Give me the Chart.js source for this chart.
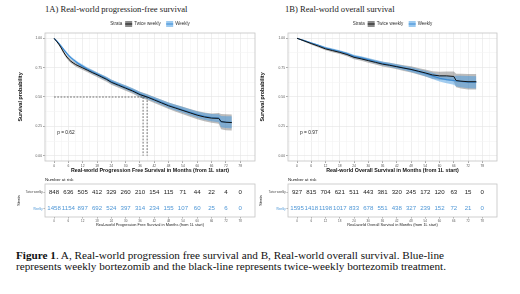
<!DOCTYPE html>
<html>
<head>
<meta charset="utf-8">
<script src="https://cdn.jsdelivr.net/npm/chart.js@4"></script>
<style>
  html, body { margin: 0; padding: 0; background: #fff; }
  body { width: 520px; height: 294px; position: relative; overflow: hidden; font-family: "Liberation Sans", Arial, sans-serif; }
  canvas { position: absolute; }
  .panel-title { position: absolute; font-family: "Liberation Serif", serif; color: #222; white-space: nowrap; font-size: 8.6px; }
  .caption { position: absolute; left: 16px; top: 250px; font-family: "Liberation Serif", serif; font-size: 11.2px; line-height: 11.3px; color: #111; white-space: nowrap; }
</style>
</head>
<body>

<div class="panel-title" style="left:45px; top:4px;">1A) Real-world progression-free survival</div>
<canvas id="pfsChart" width="262" height="159" style="left:0; top:15px;"></canvas>
<canvas id="pfsRisk" width="262" height="51" style="left:0; top:176px;"></canvas>

<div class="panel-title" style="left:285px; top:4px;">1B) Real-world overall survival</div>
<canvas id="osChart" width="262" height="159" style="left:242px; top:15px;"></canvas>
<canvas id="osRisk" width="262" height="51" style="left:242px; top:176px;"></canvas>

<div class="caption"><b>Figure 1</b>. A, Real-world progression free survival and B, Real-world overall survival. Blue-line<br>represents weekly bortezomib and the black-line represents twice-weekly bortezomib treatment.</div>

<script>
// 坐标刻度
const xTicks = [0, 6, 12, 18, 24, 30, 36, 42, 48, 54, 60, 66, 72, 78];
const yTicks = [0, 0.25, 0.5, 0.75, 1];

// 无进展生存 (PFS)
const pfsTime = [0, 1, 2, 3, 4, 5, 6, 7, 8, 9, 10, 12, 14, 16, 18, 20, 22, 24, 27, 30, 33, 36, 39, 42, 45, 48, 51, 54, 57, 60, 63, 66, 69, 70, 72, 74.5];
const pfsTwice = [1.00, 0.975, 0.95, 0.918, 0.882, 0.85, 0.825, 0.805, 0.79, 0.777, 0.767, 0.748, 0.728, 0.708, 0.69, 0.67, 0.65, 0.625, 0.60, 0.575, 0.55, 0.52, 0.50, 0.475, 0.45, 0.425, 0.405, 0.385, 0.365, 0.345, 0.33, 0.32, 0.318, 0.29, 0.285, 0.282];
const pfsTwiceCI = [0, 0.007, 0.009, 0.011, 0.013, 0.014, 0.015, 0.016, 0.016, 0.017, 0.017, 0.018, 0.018, 0.019, 0.019, 0.02, 0.02, 0.021, 0.022, 0.022, 0.023, 0.024, 0.025, 0.026, 0.027, 0.028, 0.03, 0.031, 0.033, 0.035, 0.037, 0.04, 0.045, 0.065, 0.068, 0.068];
const pfsWeekly = [1.00, 0.98, 0.957, 0.932, 0.905, 0.88, 0.855, 0.835, 0.818, 0.803, 0.788, 0.762, 0.737, 0.716, 0.696, 0.676, 0.656, 0.632, 0.606, 0.581, 0.556, 0.526, 0.502, 0.48, 0.455, 0.43, 0.41, 0.39, 0.37, 0.35, 0.335, 0.325, 0.32, 0.29, 0.287, 0.285];
const pfsWeeklyCI = [0, 0.006, 0.007, 0.008, 0.009, 0.01, 0.011, 0.012, 0.012, 0.013, 0.013, 0.014, 0.014, 0.015, 0.015, 0.016, 0.016, 0.017, 0.017, 0.018, 0.018, 0.019, 0.02, 0.021, 0.022, 0.023, 0.024, 0.025, 0.026, 0.027, 0.029, 0.031, 0.034, 0.048, 0.05, 0.052];
const pfsMedians = [37.3, 39.0];

// 总生存 (OS)
const osTime = [0, 3, 6, 9, 12, 15, 18, 21, 24, 27, 30, 33, 36, 39, 42, 45, 48, 51, 54, 57, 60, 63, 66, 67, 69, 72, 75.5];
const osTwice = [1.00, 0.978, 0.955, 0.933, 0.91, 0.895, 0.88, 0.862, 0.838, 0.825, 0.81, 0.795, 0.78, 0.77, 0.758, 0.746, 0.735, 0.72, 0.705, 0.688, 0.68, 0.68, 0.675, 0.64, 0.635, 0.63, 0.63];
const osTwiceCI = [0, 0.007, 0.009, 0.011, 0.012, 0.013, 0.014, 0.015, 0.016, 0.017, 0.018, 0.019, 0.02, 0.021, 0.022, 0.024, 0.026, 0.028, 0.03, 0.032, 0.034, 0.037, 0.042, 0.058, 0.062, 0.066, 0.066];
const osWeekly = [1.00, 0.98, 0.96, 0.94, 0.918, 0.902, 0.887, 0.87, 0.846, 0.833, 0.818, 0.803, 0.787, 0.774, 0.761, 0.748, 0.733, 0.717, 0.70, 0.68, 0.66, 0.648, 0.64, 0.636, 0.632, 0.626, 0.625];
const osWeeklyCI = [0, 0.006, 0.007, 0.008, 0.009, 0.01, 0.011, 0.012, 0.013, 0.013, 0.014, 0.015, 0.016, 0.017, 0.018, 0.019, 0.02, 0.022, 0.024, 0.026, 0.028, 0.031, 0.036, 0.046, 0.049, 0.052, 0.052];

// 风险人数
const riskTime = [0, 6, 12, 18, 24, 30, 36, 42, 48, 54, 60, 66, 72, 78];
const strata = ['Twice weekly', 'Weekly'];
const pfsRiskTwice = [848, 636, 505, 412, 329, 260, 210, 154, 115, 71, 44, 22, 4, 0];
const pfsRiskWeekly = [1458, 1154, 897, 692, 524, 397, 314, 234, 155, 107, 60, 25, 6, 0];
const osRiskTwice = [927, 815, 704, 621, 511, 443, 381, 320, 245, 172, 120, 63, 15, 0];
const osRiskWeekly = [1595, 1418, 1198, 1017, 833, 678, 551, 438, 327, 239, 152, 72, 21, 0];

const BLACK = '#111111';
const BLUE = '#3a8ad4';
const BLUE_TEXT = '#4f97d6';
const GRAY_BAND = 'rgba(95,95,95,0.42)';
const BLUE_BAND = 'rgba(70,155,228,0.5)';
const X_MIN = -3.8, X_MAX = 84.2;

// 主/次网格
const xGrid = [-3].concat(...xTicks.map(v => [v, v + 3]));
const yGrid = [0, 0.125, 0.25, 0.375, 0.5, 0.625, 0.75, 0.875, 1];
const isMajorX = v => xTicks.includes(v);
const isMajorY = v => yTicks.some(t => Math.abs(t - v) < 1e-6);

// 面板边框
const framePlugin = {
    id: 'frame',
    afterDraw(chart) {
        const { ctx, chartArea: a } = chart;
        ctx.save();
        ctx.strokeStyle = '#c4c4c4';
        ctx.lineWidth = 0.8;
        ctx.strokeRect(a.left, a.top, a.width, a.height);
        ctx.restore();
    }
};

// 图例 (Strata)
const strataLegendPlugin = {
    id: 'strataLegend',
    afterDraw(chart) {
        const { ctx, chartArea: a } = chart;
        const keys = [
            { fill: '#8c8c8c', line: BLACK },
            { fill: '#9ccaf0', line: BLUE }
        ];
        ctx.save();
        ctx.font = '4.5px "Liberation Sans", Arial, sans-serif';
        ctx.textBaseline = 'middle';
        const keyW = 7, keyH = 6, gapA = 3, gapB = 2, gapC = 2.5;
        let total = ctx.measureText('Strata').width;
        strata.forEach(s => { total += gapA + keyW + gapB + ctx.measureText(s).width; });
        total += gapC;
        let x = (a.left + a.right) / 2 - total / 2;
        const y = a.top - 9;
        ctx.fillStyle = '#333';
        ctx.fillText('Strata', x, y);
        x += ctx.measureText('Strata').width;
        strata.forEach((s, i) => {
            x += gapA;
            ctx.fillStyle = keys[i].fill;
            ctx.fillRect(x, y - keyH / 2, keyW, keyH);
            ctx.fillStyle = keys[i].line;
            ctx.fillRect(x, y - 0.5, keyW, 1);
            x += keyW + gapB;
            ctx.fillStyle = '#333';
            ctx.fillText(s, x, y);
            x += ctx.measureText(s).width + (i === 0 ? gapC : 0);
        });
        ctx.restore();
    }
};

// p 值标注
const pLabelPlugin = {
    id: 'pLabel',
    afterDatasetsDraw(chart, args, opts) {
        if (!opts.text) return;
        const { ctx, scales } = chart;
        ctx.save();
        ctx.font = '4.8px "Liberation Sans", Arial, sans-serif';
        ctx.fillStyle = '#222';
        ctx.textBaseline = 'middle';
        ctx.fillText(opts.text, scales.x.getPixelForValue(opts.x), scales.y.getPixelForValue(opts.y));
        ctx.restore();
    }
};

// 风险表数字
const riskTextPlugin = {
    id: 'riskText',
    afterDraw(chart) {
        const { ctx, chartArea: a } = chart;
        ctx.save();
        ctx.font = '6.1px "Liberation Sans", Arial, sans-serif';
        ctx.textAlign = 'center';
        ctx.textBaseline = 'middle';
        chart.data.datasets.forEach((ds, di) => {
            const meta = chart.getDatasetMeta(di);
            ctx.fillStyle = ds.textColor;
            meta.data.forEach((pt, i) => ctx.fillText(String(ds.data[i].n), pt.x, pt.y));
        });
        ctx.font = '4.4px "Liberation Sans", Arial, sans-serif';
        ctx.fillStyle = '#222';
        ctx.textAlign = 'left';
        ctx.textBaseline = 'bottom';
        ctx.fillText('Number at risk', a.left, a.top - 2);
        ctx.restore();
    }
};

function pairs(xs, ys) {
    return xs.map((x, i) => ({ x: x, y: ys[i] }));
}

function bandLine(xs, ys, ci, sign) {
    return xs.map((x, i) => ({ x: x, y: ys[i] + sign * ci[i] }));
}

// 生存曲线
function makeKM(id, cfg) {
    const datasets = [
        { data: bandLine(cfg.time, cfg.twice, cfg.twiceCI, -1), borderWidth: 0, pointRadius: 0, fill: false, order: 5 },
        { data: bandLine(cfg.time, cfg.twice, cfg.twiceCI, 1), borderWidth: 0, pointRadius: 0, fill: '-1', backgroundColor: GRAY_BAND, order: 5 },
        { data: bandLine(cfg.time, cfg.weekly, cfg.weeklyCI, -1), borderWidth: 0, pointRadius: 0, fill: false, order: 4 },
        { data: bandLine(cfg.time, cfg.weekly, cfg.weeklyCI, 1), borderWidth: 0, pointRadius: 0, fill: '-1', backgroundColor: BLUE_BAND, order: 4 },
        { data: pairs(cfg.time, cfg.weekly), borderColor: BLUE, borderWidth: 1.1, pointRadius: 0, fill: false, order: 1 },
        { data: pairs(cfg.time, cfg.twice), borderColor: BLACK, borderWidth: 1.0, pointRadius: 0, fill: false, order: 0 }
    ];
    if (cfg.medians) {
        const m = Math.max(...cfg.medians);
        const dash = { borderColor: '#333', borderWidth: 0.7, borderDash: [1.8, 1.4], pointRadius: 0, fill: false, order: 2 };
        datasets.push(Object.assign({ data: [{ x: 0, y: 0.5 }, { x: m, y: 0.5 }] }, dash));
        cfg.medians.forEach(v => datasets.push(Object.assign({ data: [{ x: v, y: 0.5 }, { x: v, y: 0 }] }, dash)));
    }

    return new Chart(document.getElementById(id), {
        type: 'line',
        data: { datasets: datasets },
        plugins: [framePlugin, pLabelPlugin, strataLegendPlugin],
        options: {
            responsive: false,
            animation: false,
            devicePixelRatio: 1,
            events: [],
            layout: { padding: { left: 17, right: 7, top: 18, bottom: 0 } },
            elements: { line: { tension: 0 } },
            plugins: {
                legend: { display: false },
                tooltip: { enabled: false },
                pLabel: { text: cfg.pText, x: 1.3, y: 0.2 }
            },
            scales: {
                x: {
                    type: 'linear',
                    min: X_MIN,
                    max: X_MAX,
                    afterBuildTicks: s => { s.ticks = xGrid.map(v => ({ value: v })); },
                    afterFit: s => { s.height = 13; },
                    grid: {
                        color: c => isMajorX(c.tick.value) ? '#e4e4e4' : '#f3f3f3',
                        lineWidth: 0.6,
                        tickLength: 2,
                        tickColor: c => isMajorX(c.tick.value) && c.tick.value >= 0 ? '#555' : 'rgba(0,0,0,0)',
                        tickWidth: 0.5
                    },
                    border: { display: false },
                    ticks: {
                        autoSkip: false,
                        maxRotation: 0,
                        padding: 1,
                        color: '#555',
                        font: { size: 3.3, family: '"Liberation Sans", Arial' },
                        callback: v => (isMajorX(v) && v >= 0) ? String(v) : ''
                    },
                    title: {
                        display: true,
                        text: cfg.xTitle,
                        color: '#111',
                        padding: 0,
                        font: { size: 5.3, weight: 'bold', family: '"Liberation Sans", Arial' }
                    }
                },
                y: {
                    min: -0.045,
                    max: 1.045,
                    afterBuildTicks: s => { s.ticks = yGrid.map(v => ({ value: v })); },
                    afterFit: s => { s.width = cfg.yWidth; },
                    grid: {
                        color: c => isMajorY(c.tick.value) ? '#e4e4e4' : '#f3f3f3',
                        lineWidth: 0.6,
                        tickLength: 2,
                        tickColor: c => isMajorY(c.tick.value) ? '#555' : 'rgba(0,0,0,0)',
                        tickWidth: 0.5
                    },
                    border: { display: false },
                    ticks: {
                        autoSkip: false,
                        padding: 1,
                        color: '#555',
                        font: { size: 3.3, family: '"Liberation Sans", Arial' },
                        callback: v => isMajorY(v) ? v.toFixed(2) : ''
                    },
                    title: {
                        display: true,
                        text: 'Survival probability',
                        color: '#111',
                        padding: 0,
                        font: { size: 5.3, weight: 'bold', family: '"Liberation Sans", Arial' }
                    }
                }
            }
        }
    });
}

// 风险表
function makeRisk(id, cfg) {
    const rows = [
        { data: riskTime.map((t, i) => ({ x: t, y: strata[0], n: cfg.twice[i] })), textColor: '#222' },
        { data: riskTime.map((t, i) => ({ x: t, y: strata[1], n: cfg.weekly[i] })), textColor: BLUE_TEXT }
    ].map(r => Object.assign(r, { showLine: false, pointRadius: 0 }));

    return new Chart(document.getElementById(id), {
        type: 'line',
        data: { labels: strata, datasets: rows },
        plugins: [framePlugin, riskTextPlugin],
        options: {
            responsive: false,
            animation: false,
            devicePixelRatio: 1,
            events: [],
            layout: { padding: { left: 17, right: 7, top: 8, bottom: 0 } },
            plugins: { legend: { display: false }, tooltip: { enabled: false } },
            scales: {
                x: {
                    type: 'linear',
                    min: X_MIN,
                    max: X_MAX,
                    afterBuildTicks: s => { s.ticks = xTicks.map(v => ({ value: v })); },
                    afterFit: s => { s.height = 10; },
                    grid: { drawOnChartArea: false, tickLength: 1.5, tickColor: '#555', tickWidth: 0.5 },
                    border: { display: false },
                    ticks: {
                        autoSkip: false,
                        maxRotation: 0,
                        padding: 0.5,
                        color: '#555',
                        font: { size: 3, family: '"Liberation Sans", Arial' }
                    },
                    title: {
                        display: true,
                        text: cfg.xTitle,
                        color: '#222',
                        padding: 0,
                        font: { size: 3.9, family: '"Liberation Sans", Arial' }
                    }
                },
                y: {
                    type: 'category',
                    labels: strata,
                    offset: true,
                    afterFit: s => { s.width = cfg.yWidth; },
                    grid: { drawOnChartArea: false, tickLength: 1.5, tickColor: '#555', tickWidth: 0.5, offset: false },
                    border: { display: false },
                    ticks: {
                        padding: 0.8,
                        color: c => c.index === 1 ? BLUE_TEXT : '#444',
                        font: { size: 2.9, family: '"Liberation Sans", Arial' }
                    },
                    title: {
                        display: true,
                        text: 'Strata',
                        color: '#222',
                        padding: 0,
                        font: { size: 3.9, family: '"Liberation Sans", Arial' }
                    }
                }
            }
        }
    });
}

makeKM('pfsChart', {
    time: pfsTime, twice: pfsTwice, twiceCI: pfsTwiceCI, weekly: pfsWeekly, weeklyCI: pfsWeeklyCI,
    medians: pfsMedians, pText: 'p = 0.62', yWidth: 28,
    xTitle: 'Real-world Progression Free Survival in Months (from 1L start)'
});
makeKM('osChart', {
    time: osTime, twice: osTwice, twiceCI: osTwiceCI, weekly: osWeekly, weeklyCI: osWeeklyCI,
    pText: 'p = 0.97', yWidth: 29,
    xTitle: 'Real-world Overall Survival in Months (from 1L start)'
});
makeRisk('pfsRisk', {
    twice: pfsRiskTwice, weekly: pfsRiskWeekly, yWidth: 28,
    xTitle: 'Real-world Progression Free Survival in Months (from 1L start)'
});
makeRisk('osRisk', {
    twice: osRiskTwice, weekly: osRiskWeekly, yWidth: 29,
    xTitle: 'Real-world Overall Survival in Months (from 1L start)'
});
</script>
</body>
</html>
